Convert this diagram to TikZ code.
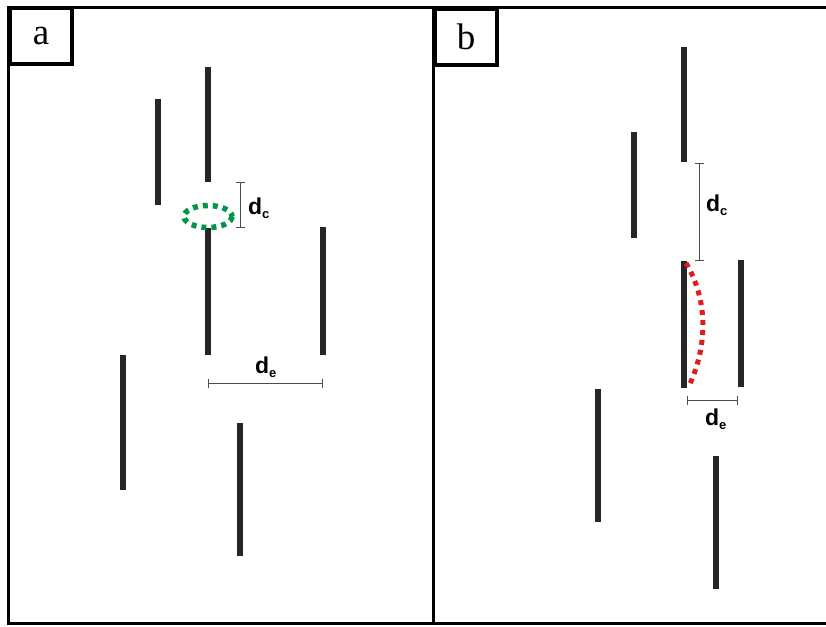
\documentclass[tikz,border=0pt]{standalone}
\usepackage{fontspec}
\usetikzlibrary{arrows.meta}
\setmainfont{Liberation Serif}
\newfontfamily\labfont{Liberation Sans}
\begin{document}
\begin{tikzpicture}[x=1pt,y=-1pt,
  bar/.style={line width=6pt, draw=black!85},
  dimline/.style={draw=black!70, line width=1pt, {Bar[width=9pt,line width=1pt]}-{Bar[width=9pt,line width=1pt]}},
  dimlab/.style={font=\labfont\bfseries\fontsize{23}{23}\selectfont, inner sep=0pt},
  panellab/.style={draw=black, line width=4pt, fill=white, font=\fontsize{37}{37}\selectfont, inner sep=0pt, minimum width=62pt, minimum height=55pt},
  greendash/.style={draw={rgb,255:red,0;green,150;blue,70}, line width=5.5pt, dash pattern=on 5pt off 5pt},
  reddash/.style={draw={rgb,255:red,220;green,30;blue,30}, line width=5pt, dash pattern=on 5pt off 5pt}]
\useasboundingbox (0,0) rectangle (826,626);
\fill[white] (0,0) rectangle (826,626);
% frames
\draw[line width=3pt] (8,8) rectangle (827,623);
\draw[line width=3pt] (433,8) -- (433,623);
\node[panellab] (la) at (41,36) {a};
\node[panellab] (lb) at (466,37) {b};
% panel a bars
\draw[bar] (158,99) -- (158,205);
\draw[bar] (208,67) -- (208,182);
\draw[bar] (208,228) -- (208,355);
\draw[bar] (323,227) -- (323,355);
\draw[bar] (123,355) -- (123,490);
\draw[bar] (240,423) -- (240,556);
\draw[greendash] (208,216.5) ellipse [x radius=24, y radius=11];
\coordinate (ac1) at (240,182);
\coordinate (ac2) at (240,228);
\draw[dimline] (ac1) -- (ac2);
\node[dimlab] (adc) at (259,208) {d\textsubscript{\fontsize{13}{13}\selectfont c}};
\coordinate (ae1) at (208,383);
\coordinate (ae2) at (323,383);
\draw[dimline] (ae1) -- (ae2);
\node[dimlab] (ade) at (266,367) {d\textsubscript{\fontsize{13}{13}\selectfont e}};
% panel b bars
\draw[bar] (684,47) -- (684,162);
\draw[bar] (634,132) -- (634,238);
\draw[bar] (684,261) -- (684,388);
\draw[bar] (741,260) -- (741,387);
\draw[bar] (598,389) -- (598,522);
\draw[bar] (716,456) -- (716,589);
\draw[reddash] (686,263) .. controls (708,300) and (708,345) .. (689,386);
\coordinate (bc1) at (699,163);
\coordinate (bc2) at (699,261);
\draw[dimline] (bc1) -- (bc2);
\node[dimlab] (bdc) at (717,205) {d\textsubscript{\fontsize{13}{13}\selectfont c}};
\coordinate (be1) at (687,400);
\coordinate (be2) at (738,400);
\draw[dimline] (be1) -- (be2);
\node[dimlab] (bde) at (716,419) {d\textsubscript{\fontsize{13}{13}\selectfont e}};
\end{tikzpicture}
\end{document}
